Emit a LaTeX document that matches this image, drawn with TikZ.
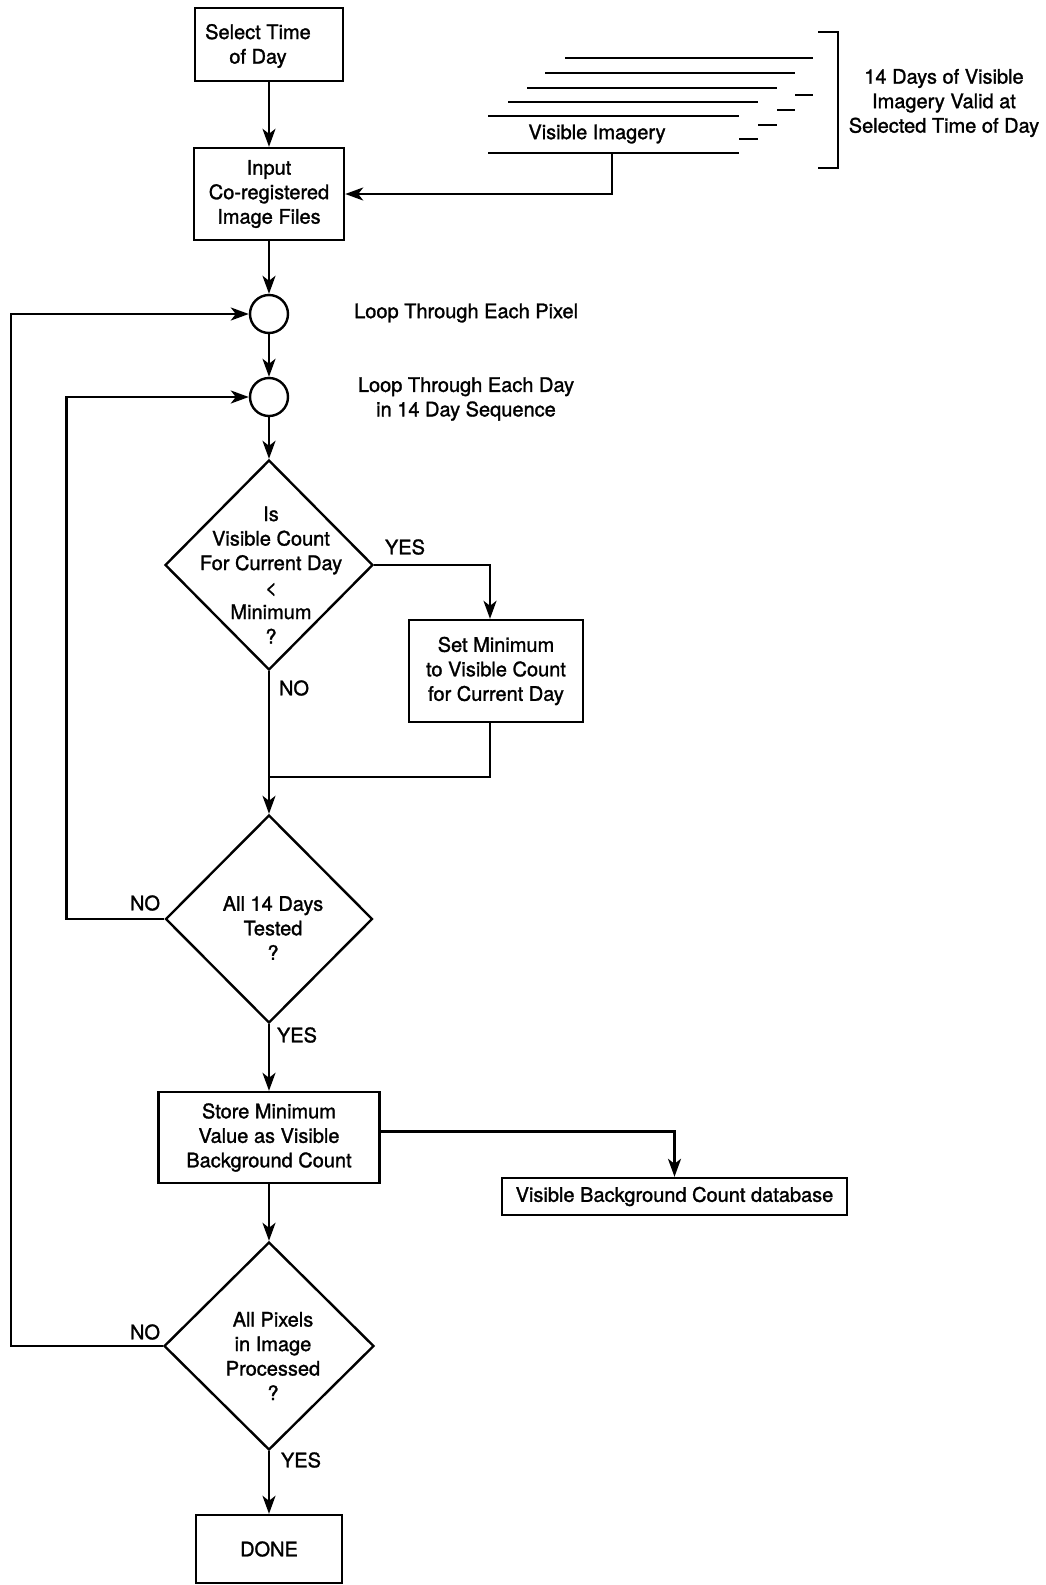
\documentclass[tikz,border=0pt]{standalone}
\usepackage{fontspec}
\setmainfont{TeX Gyre Heros}[UprightFeatures={FakeBold=1.4}]
\usetikzlibrary{shapes.geometric,arrows.meta}
\begin{document}
\begin{tikzpicture}[x=1pt,y=-1pt,
  every node/.style={font=\fontsize{20}{24.5}\selectfont},
  line/.style={line width=2.4pt},
  arrow/.style={line width=2.4pt,-{Stealth[length=18pt,width=13pt,inset=5pt]}},
  box/.style={draw,line width=2.4pt,rectangle,inner sep=0pt,align=center},
  dia/.style={draw,line width=2.4pt,diamond,inner sep=0pt},
  loopnode/.style={draw,line width=2.4pt,circle,minimum size=38pt,inner sep=0pt},
  txt/.style={align=center,inner sep=0pt},
  sheet/.style={line width=2pt},
]
\useasboundingbox (0,0) rectangle (1045,1585);

% stack of image sheets
\draw[sheet] (565,58) -- (813,58);
\draw[sheet] (545,73) -- (795,73);
\draw[sheet] (527,88) -- (777,88);
\draw[sheet] (508,102) -- (758,102);
\draw[sheet] (488,116) -- (739,116);
\draw[sheet] (795,95) -- (813,95);
\draw[sheet] (777,110) -- (795,110);
\draw[sheet] (758,125) -- (777,125);
\draw[sheet] (739,139) -- (758,139);
\draw[sheet] (488,153) -- (739,153);
\node[txt] (vis) at (597,134) {Visible Imagery};
\coordinate (vfoot) at (612,153);

% bracket and its caption
\draw[line] (818,32) -- (838,32) -- (838,168) -- (818,168);
\node[txt] (brt) at (944,103) {14 Days of Visible\\Imagery Valid at\\Selected Time of Day};

% main column
\node[box,minimum width=148pt,minimum height=73pt] (sel) at (269,44.5) {};
\node[txt] (selt) at (258,46) {Select Time\\of Day};
\node[box,minimum width=150pt,minimum height=92pt] (inp) at (269,194) {Input\\Co-registered\\Image Files};
\node[loopnode] (c1) at (269,314) {};
\node[loopnode] (c2) at (269,397) {};
\node[txt,anchor=west] (l1) at (354,313) {Loop Through Each Pixel};
\node[txt] (l2) at (466,399) {Loop Through Each Day\\in 14 Day Sequence};

\node[dia,minimum width=208pt,minimum height=210pt] (d1) at (269,565) {};
\node[txt] (d1t) at (271,575) {Is\\Visible Count\\For Current Day\\<\\Minimum\\?};
\node[box,minimum width=174pt,minimum height=102pt] (setm) at (496,671) {Set Minimum\\to Visible Count\\for Current Day};

\node[dia,minimum width=207pt,minimum height=208pt] (d2) at (269,919) {};
\node[txt] (d2t) at (273,928) {All 14 Days\\Tested\\?};

\node[box,minimum width=221pt,minimum height=91pt] (store) at (269,1137.5) {Store Minimum\\Value as Visible\\Background Count};
\node[box,minimum width=345pt,minimum height=37pt] (db) at (674.5,1196.5) {Visible Background Count database};

\node[dia,minimum width=210pt,minimum height=208pt] (d3) at (269,1346) {};
\node[txt] (d3t) at (273,1356) {All Pixels\\in Image\\Processed\\?};

\node[box,minimum width=146pt,minimum height=68pt] (done) at (269,1549) {DONE};

% branch labels
\node[txt] (y1) at (405,547) {YES};
\node[txt] (n1) at (294,688) {NO};
\node[txt] (n2) at (145,903) {NO};
\node[txt] (y2) at (297,1035) {YES};
\node[txt] (n3) at (145,1332) {NO};
\node[txt] (y3) at (301,1460) {YES};

% connectors
\draw[arrow] (vfoot) |- (inp.east);
\draw[arrow] (sel) -- (inp);
\draw[arrow] (inp) -- (c1);
\draw[arrow] (c1) -- (c2);
\draw[arrow] (c2) -- (d1);
\draw[arrow] (d1.east) -| ([xshift=-6pt]setm.north);
\draw[arrow] (d1) -- (d2);
\coordinate (join) at (269,777);
\draw[line] ([xshift=-6pt]setm.south) |- (join);
\draw[arrow] (d2.west) -- ++(-98,0) |- (c2.west);
\draw[arrow] (d2) -- (store);
\draw[arrow] ([yshift=6pt]store.east) -| (db.north);
\draw[arrow] (store) -- (d3);
\draw[arrow] (d3.west) -- ++(-152,0) |- (c1.west);
\draw[arrow] (d3) -- (done);
\end{tikzpicture}
\end{document}
